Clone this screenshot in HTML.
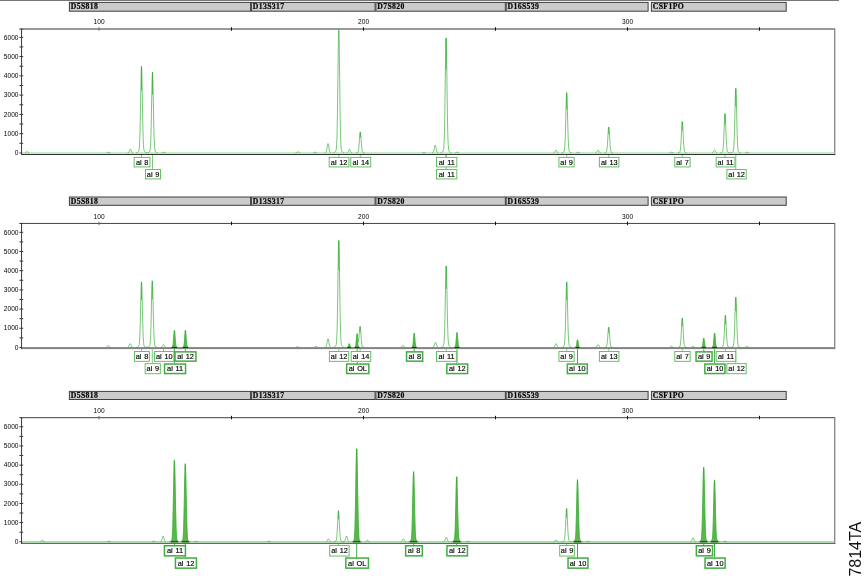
<!DOCTYPE html>
<html lang="en"><head><meta charset="utf-8"><title>7814TA</title>
<style>html,body{margin:0;padding:0;background:#fff;width:864px;height:576px;overflow:hidden}svg{display:block}.a{font-family:"Liberation Sans",sans-serif;font-size:6.6px;fill:#000}.l{font-family:"Liberation Sans",sans-serif;font-size:7.35px;fill:#000;stroke:#000;stroke-width:0.15px;word-spacing:0.7px}.b{font-family:"Liberation Serif",serif;font-weight:bold;font-size:7.7px;letter-spacing:0.4px;fill:#000;stroke:#000;stroke-width:0.2px}.s{font-family:"Liberation Sans",sans-serif;font-size:16px;fill:#111}</style></head><body>
<svg width="864" height="576" viewBox="0 0 864 576">
<rect width="864" height="576" fill="#fff"/>
<line x1="0" y1="0.4" x2="839" y2="0.4" stroke="#777" stroke-width="1.2"/>
<g>
<rect x="69.4" y="2.4" width="181.2" height="8.8" fill="#cbcbcb" stroke="#3e3e3e" stroke-width="1"/>
<text class="b" x="70.7" y="9.15">D5S818</text>
<rect x="251.4" y="2.4" width="123.7" height="8.8" fill="#cbcbcb" stroke="#3e3e3e" stroke-width="1"/>
<text class="b" x="252.7" y="9.15">D13S317</text>
<rect x="375.9" y="2.4" width="129.45" height="8.8" fill="#cbcbcb" stroke="#3e3e3e" stroke-width="1"/>
<text class="b" x="377.2" y="9.15">D7S820</text>
<rect x="506.15" y="2.4" width="141.95" height="8.8" fill="#cbcbcb" stroke="#3e3e3e" stroke-width="1"/>
<text class="b" x="507.45" y="9.15">D16S539</text>
<rect x="651.4" y="2.4" width="134.8" height="8.8" fill="#cbcbcb" stroke="#3e3e3e" stroke-width="1"/>
<text class="b" x="652.7" y="9.15">CSF1PO</text>
<line x1="19.4" y1="152.95" x2="23.2" y2="152.95" stroke="#222" stroke-width="0.9"/>
<text class="a" x="18.5" y="155.15" text-anchor="end">0</text>
<line x1="19.4" y1="143.31" x2="23.2" y2="143.31" stroke="#222" stroke-width="0.9"/>
<line x1="19.4" y1="133.68" x2="23.2" y2="133.68" stroke="#222" stroke-width="0.9"/>
<text class="a" x="18.5" y="135.88" text-anchor="end">1000</text>
<line x1="19.4" y1="124.04" x2="23.2" y2="124.04" stroke="#222" stroke-width="0.9"/>
<line x1="19.4" y1="114.41" x2="23.2" y2="114.41" stroke="#222" stroke-width="0.9"/>
<text class="a" x="18.5" y="116.61" text-anchor="end">2000</text>
<line x1="19.4" y1="104.77" x2="23.2" y2="104.77" stroke="#222" stroke-width="0.9"/>
<line x1="19.4" y1="95.14" x2="23.2" y2="95.14" stroke="#222" stroke-width="0.9"/>
<text class="a" x="18.5" y="97.34" text-anchor="end">3000</text>
<line x1="19.4" y1="85.5" x2="23.2" y2="85.5" stroke="#222" stroke-width="0.9"/>
<line x1="19.4" y1="75.87" x2="23.2" y2="75.87" stroke="#222" stroke-width="0.9"/>
<text class="a" x="18.5" y="78.07" text-anchor="end">4000</text>
<line x1="19.4" y1="66.23" x2="23.2" y2="66.23" stroke="#222" stroke-width="0.9"/>
<line x1="19.4" y1="56.6" x2="23.2" y2="56.6" stroke="#222" stroke-width="0.9"/>
<text class="a" x="18.5" y="58.8" text-anchor="end">5000</text>
<line x1="19.4" y1="46.96" x2="23.2" y2="46.96" stroke="#222" stroke-width="0.9"/>
<line x1="19.4" y1="37.33" x2="23.2" y2="37.33" stroke="#222" stroke-width="0.9"/>
<text class="a" x="18.5" y="39.53" text-anchor="end">6000</text>
<line x1="19.4" y1="29.05" x2="23.2" y2="29.05" stroke="#222" stroke-width="1"/>
<line x1="21.6" y1="29.05" x2="835.2" y2="29.05" stroke="#777" stroke-width="1.4"/>
<line x1="834.7" y1="29.05" x2="834.7" y2="154.95" stroke="#858585" stroke-width="1.3"/>
<line x1="99" y1="27.25" x2="99" y2="30.75" stroke="#666" stroke-width="1"/>
<text class="a" x="99.1" y="24.3" text-anchor="middle">100</text>
<line x1="231.5" y1="27.25" x2="231.5" y2="30.75" stroke="#111" stroke-width="1"/>
<line x1="363.5" y1="27.25" x2="363.5" y2="30.75" stroke="#111" stroke-width="1"/>
<text class="a" x="363.6" y="24.3" text-anchor="middle">200</text>
<line x1="495.5" y1="27.25" x2="495.5" y2="30.75" stroke="#111" stroke-width="1"/>
<line x1="627.5" y1="27.25" x2="627.5" y2="30.75" stroke="#111" stroke-width="1"/>
<text class="a" x="627.6" y="24.3" text-anchor="middle">300</text>
<line x1="759.5" y1="27.25" x2="759.5" y2="30.75" stroke="#111" stroke-width="1"/>
<line x1="22.1" y1="152.95" x2="834.4" y2="152.95" stroke="#c6eac6" stroke-width="1.9"/>
<line x1="21.1" y1="154.45" x2="835.2" y2="154.45" stroke="#303030" stroke-width="1.1"/>
<line x1="21.55" y1="28.65" x2="21.55" y2="154.95" stroke="#3a3a3a" stroke-width="1"/>
<path d="M24.95 152.84L25.2 152.77L25.45 152.65L25.7 152.49L25.95 152.29L26.2 152.06L26.45 151.84L26.7 151.68L26.95 151.6L27.2 151.64L27.45 151.77L27.7 151.97L27.95 152.2L28.2 152.42L28.45 152.6L28.7 152.73L28.95 152.82L29.2 152.87M106.7 152.85L106.95 152.78L107.2 152.69L107.45 152.57L107.7 152.44L107.95 152.32L108.2 152.22L108.45 152.18L108.7 152.2L108.95 152.27L109.2 152.39L109.45 152.52L109.7 152.64L109.95 152.75L110.2 152.82L110.45 152.87M127.7 152.86L127.95 152.81L128.2 152.73L128.45 152.57L128.7 152.32L128.95 151.94L129.2 151.42L129.45 150.8L129.7 150.15L129.95 149.57L130.2 149.2L130.45 149.1L130.7 149.32L130.95 149.79L131.2 150.41L131.45 151.06L131.7 151.64L131.95 152.11L132.2 152.43L132.45 152.64L132.7 152.77L132.95 152.84M136.2 152.84L136.45 152.81L136.7 152.75L136.95 152.69L137.2 152.61L137.45 152.5L137.7 152.37L137.95 152.22L138.2 152.01L138.45 151.71L138.7 151.23L138.95 150.39L139.2 148.83L139.45 146.04L139.7 141.32L139.95 133.98L140.2 123.58L140.45 110.42L140.7 95.74L140.95 81.76L141.2 71.19L141.45 66.38L141.7 68.47L141.95 76.97L142.2 89.92L142.45 104.63L142.7 118.61L142.95 130.19L143.2 138.73L143.45 144.43L143.7 147.9L143.95 149.87L144.2 150.95L144.45 151.55L144.7 151.9L144.95 152.14L145.2 152.31L145.45 152.45L145.7 152.56L145.95 152.64L146.2 152.71L146.45 152.75L146.7 152.78L146.95 152.8L147.2 152.79L147.45 152.77L147.7 152.74L147.95 152.69L148.2 152.62L148.45 152.52L148.7 152.41L148.95 152.26L149.2 152.07L149.45 151.79L149.7 151.35L149.95 150.56L150.2 149.1L150.45 146.5L150.7 142.1L150.95 135.24L151.2 125.54L151.45 113.26L151.7 99.55L151.95 86.51L152.2 76.64L152.45 72.15L152.7 74.11L152.95 82.04L153.2 94.12L153.45 107.85L153.7 120.9L153.95 131.71L154.2 139.68L154.45 144.99L154.7 148.24L154.95 150.08L155.2 151.09L155.45 151.64L155.7 151.97L155.95 152.19L156.2 152.36L156.45 152.49L156.7 152.59L156.95 152.68L157.2 152.75L157.45 152.8L157.7 152.84M161.7 152.85L161.95 152.78L162.2 152.69L162.45 152.57L162.7 152.44L162.95 152.32L163.2 152.22L163.45 152.18L163.7 152.2L163.95 152.27L164.2 152.39L164.45 152.52L164.7 152.64L164.95 152.75L165.2 152.82L165.45 152.87M295.7 152.87L295.95 152.81L296.2 152.72L296.45 152.59L296.7 152.42L296.95 152.23L297.2 152.04L297.45 151.88L297.7 151.8L297.95 151.81L298.2 151.91L298.45 152.07L298.7 152.27L298.95 152.46L299.2 152.62L299.45 152.74L299.7 152.82L299.95 152.88M313.2 152.85L313.45 152.78L313.7 152.69L313.95 152.57L314.2 152.44L314.45 152.32L314.7 152.22L314.95 152.18L315.2 152.2L315.45 152.27L315.7 152.39L315.95 152.52L316.2 152.64L316.45 152.75L316.7 152.82L316.95 152.87M324.7 152.85L324.95 152.82L325.2 152.76L325.45 152.67L325.7 152.5L325.95 152.2L326.2 151.68L326.45 150.88L326.7 149.75L326.95 148.32L327.2 146.72L327.45 145.2L327.7 144.05L327.95 143.52L328.2 143.75L328.45 144.68L328.7 146.09L328.95 147.69L329.2 149.21L329.45 150.47L329.7 151.4L329.95 152.02L330.2 152.4L330.45 152.61L330.7 152.73L330.95 152.8L331.2 152.83M333.2 152.84L333.45 152.8L333.7 152.75L333.95 152.68L334.2 152.59L334.45 152.48L334.7 152.34L334.95 152.17L335.2 151.95L335.45 151.67L335.7 151.28L335.95 150.66L336.2 149.58L336.45 147.61L336.7 144.05L336.95 137.93L337.2 128.24L337.45 114.25L337.7 96.11L337.95 75.32L338.2 54.81L338.45 38.4L338.7 29.66L338.95 30.66L339.2 41.16L339.45 58.71L339.7 79.56L339.95 100.02L340.2 117.4L340.45 130.51L340.7 139.41L340.95 144.93L341.2 148.11L341.45 149.85L341.7 150.81L341.95 151.37L342.2 151.73L342.45 152L342.7 152.2L342.95 152.37L343.2 152.51L343.45 152.62L343.7 152.7L343.95 152.77L344.2 152.82L344.45 152.85M346.7 152.86L346.95 152.82L347.2 152.74L347.45 152.59L347.7 152.35L347.95 151.99L348.2 151.5L348.45 150.91L348.7 150.29L348.95 149.74L349.2 149.38L349.45 149.29L349.7 149.5L349.95 149.94L350.2 150.53L350.45 151.15L350.7 151.71L350.95 152.15L351.2 152.46L351.45 152.66L351.7 152.78L351.95 152.84M356.2 152.85L356.45 152.82L356.7 152.78L356.95 152.73L357.2 152.66L357.45 152.56L357.7 152.37L357.95 152.04L358.2 151.43L358.45 150.38L358.7 148.73L358.95 146.34L359.2 143.24L359.45 139.69L359.7 136.19L359.95 133.38L360.2 131.89L360.45 132.06L360.7 133.86L360.95 136.85L361.2 140.42L361.45 143.91L361.7 146.88L361.95 149.12L362.2 150.64L362.45 151.58L362.7 152.12L362.95 152.42L363.2 152.58L363.45 152.68L363.7 152.74L363.95 152.79L364.2 152.82L364.45 152.85M422.2 152.87L422.45 152.82L422.7 152.75L422.95 152.67L423.2 152.57L423.45 152.48L423.7 152.4L423.95 152.37L424.2 152.39L424.45 152.44L424.7 152.53L424.95 152.63L425.2 152.72L425.45 152.8L425.7 152.86M432.2 152.83L432.45 152.78L432.7 152.69L432.95 152.53L433.2 152.25L433.45 151.78L433.7 151.05L433.95 150.05L434.2 148.81L434.45 147.47L434.7 146.24L434.95 145.37L435.2 145.05L435.45 145.37L435.7 146.24L435.95 147.47L436.2 148.81L436.45 150.05L436.7 151.05L436.95 151.78L437.2 152.25L437.45 152.53L437.7 152.69L437.95 152.78L438.2 152.83L438.45 152.86M440.45 152.85L440.7 152.82L440.95 152.78L441.2 152.72L441.45 152.64L441.7 152.54L441.95 152.41L442.2 152.25L442.45 152.06L442.7 151.81L442.95 151.48L443.2 150.96L443.45 150.06L443.7 148.44L443.95 145.48L444.2 140.34L444.45 132.04L444.7 119.83L444.95 103.63L445.2 84.58L445.45 65.15L445.7 48.8L445.95 39.02L446.2 38.08L446.45 46.22L446.7 61.51L446.95 80.62L447.2 99.99L447.45 116.89L447.7 129.93L447.95 138.96L448.2 144.65L448.45 147.98L448.7 149.81L448.95 150.82L449.2 151.39L449.45 151.76L449.7 152.02L449.95 152.22L450.2 152.38L450.45 152.52L450.7 152.62L450.95 152.71L451.2 152.77L451.45 152.82L451.7 152.86M455.2 152.85L455.45 152.78L455.7 152.69L455.95 152.57L456.2 152.44L456.45 152.32L456.7 152.22L456.95 152.18L457.2 152.2L457.45 152.27L457.7 152.39L457.95 152.52L458.2 152.64L458.45 152.75L458.7 152.82L458.95 152.87M553.45 152.86L553.7 152.81L553.95 152.72L554.2 152.56L554.45 152.32L554.7 151.97L554.95 151.53L555.2 151.04L555.45 150.58L555.7 150.22L555.95 150.06L556.2 150.13L556.45 150.42L556.7 150.85L556.95 151.34L557.2 151.81L557.45 152.19L557.7 152.48L557.95 152.67L558.2 152.78L558.45 152.85M561.7 152.84L561.95 152.8L562.2 152.76L562.45 152.7L562.7 152.62L562.95 152.53L563.2 152.41L563.45 152.26L563.7 152.03L563.95 151.66L564.2 151L564.45 149.78L564.7 147.61L564.95 144L565.2 138.48L565.45 130.83L565.7 121.37L565.95 111.11L566.2 101.71L566.45 95.05L566.7 92.63L566.95 95.05L567.2 101.71L567.45 111.11L567.7 121.37L567.95 130.83L568.2 138.48L568.45 144L568.7 147.61L568.95 149.78L569.2 151L569.45 151.66L569.7 152.03L569.95 152.26L570.2 152.41L570.45 152.53L570.7 152.62L570.95 152.7L571.2 152.76L571.45 152.81L571.7 152.84M576.2 152.85L576.45 152.78L576.7 152.69L576.95 152.57L577.2 152.44L577.45 152.32L577.7 152.22L577.95 152.18L578.2 152.2L578.45 152.27L578.7 152.39L578.95 152.52L579.2 152.64L579.45 152.75L579.7 152.82L579.95 152.87M595.7 152.84L595.95 152.76L596.2 152.63L596.45 152.43L596.7 152.12L596.95 151.72L597.2 151.24L597.45 150.75L597.7 150.35L597.95 150.1L598.2 150.08L598.45 150.28L598.7 150.66L598.95 151.14L599.2 151.63L599.45 152.05L599.7 152.37L599.95 152.6L600.2 152.74L600.45 152.83L600.7 152.87M604.45 152.85L604.7 152.82L604.95 152.78L605.2 152.73L605.45 152.67L605.7 152.58L605.95 152.43L606.2 152.18L606.45 151.71L606.7 150.88L606.95 149.46L607.2 147.26L607.45 144.14L607.7 140.19L607.95 135.79L608.2 131.59L608.45 128.42L608.7 126.98L608.95 127.61L609.2 130.16L609.45 134.04L609.7 138.45L609.95 142.65L610.2 146.12L610.45 148.69L610.7 150.39L610.95 151.43L611.2 152.03L611.45 152.35L611.7 152.53L611.95 152.64L612.2 152.71L612.45 152.76L612.7 152.8L612.95 152.84M669.7 152.85L669.95 152.78L670.2 152.69L670.45 152.57L670.7 152.44L670.95 152.32L671.2 152.22L671.45 152.18L671.7 152.2L671.95 152.27L672.2 152.39L672.45 152.52L672.7 152.64L672.95 152.75L673.2 152.82L673.45 152.87M677.95 152.83L678.2 152.79L678.45 152.75L678.7 152.7L678.95 152.62L679.2 152.52L679.45 152.37L679.7 152.09L679.95 151.59L680.2 150.68L680.45 149.13L680.7 146.66L680.95 143.09L681.2 138.47L681.45 133.18L681.7 127.96L681.95 123.78L682.2 121.55L682.45 121.81L682.7 124.48L682.95 128.95L683.2 134.26L683.45 139.47L683.7 143.9L683.95 147.23L684.2 149.5L684.45 150.91L684.7 151.72L684.95 152.16L685.2 152.41L685.45 152.55L685.7 152.64L685.95 152.71L686.2 152.76L686.45 152.8L686.7 152.84M712.2 152.84L712.45 152.76L712.7 152.63L712.95 152.43L713.2 152.12L713.45 151.72L713.7 151.24L713.95 150.75L714.2 150.35L714.45 150.1L714.7 150.08L714.95 150.28L715.2 150.66L715.45 151.14L715.7 151.63L715.95 152.05L716.2 152.37L716.45 152.6L716.7 152.74L716.95 152.83L717.2 152.87M720.2 152.86L720.45 152.83L720.7 152.79L720.95 152.75L721.2 152.69L721.45 152.62L721.7 152.52L721.95 152.39L722.2 152.17L722.45 151.78L722.7 151.07L722.95 149.8L723.2 147.65L723.45 144.31L723.7 139.57L723.95 133.58L724.2 126.89L724.45 120.52L724.7 115.7L724.95 113.51L725.2 114.47L725.45 118.34L725.7 124.23L725.95 130.94L726.2 137.3L726.45 142.58L726.7 146.47L726.95 149.07L727.2 150.65L727.45 151.55L727.7 152.04L727.95 152.31L728.2 152.47L728.45 152.58L728.7 152.66L728.95 152.72L729.2 152.76L729.45 152.8L729.7 152.83L729.95 152.84M730.45 152.84L730.7 152.82L730.95 152.79L731.2 152.75L731.45 152.7L731.7 152.63L731.95 152.54L732.2 152.42L732.45 152.28L732.7 152.07L732.95 151.75L733.2 151.19L733.45 150.16L733.7 148.29L733.95 145.09L734.2 140.02L734.45 132.7L734.7 123.2L734.95 112.32L735.2 101.59L735.45 93L735.7 88.43L735.95 88.96L736.2 94.45L736.45 103.63L736.7 114.55L736.95 125.25L737.2 134.35L737.45 141.21L737.7 145.86L737.95 148.75L738.2 150.42L738.45 151.33L738.7 151.83L738.95 152.12L739.2 152.31L739.45 152.45L739.7 152.56L739.95 152.65L740.2 152.72L740.45 152.78L740.7 152.82L740.95 152.86M745.2 152.85L745.45 152.78L745.7 152.69L745.95 152.57L746.2 152.44L746.45 152.32L746.7 152.22L746.95 152.18L747.2 152.2L747.45 152.27L747.7 152.39L747.95 152.52L748.2 152.64L748.45 152.75L748.7 152.82L748.95 152.87" fill="none" stroke="#2fa92f" stroke-width="0.66" stroke-linejoin="round"/>
<line x1="141.5" y1="66.53" x2="141.5" y2="90.52" stroke="#2fa92f" stroke-width="0.7"/>
<line x1="152.5" y1="72.32" x2="152.5" y2="94.68" stroke="#2fa92f" stroke-width="0.7"/>
<line x1="360.3" y1="132.05" x2="360.3" y2="137.69" stroke="#2fa92f" stroke-width="0.7"/>
<line x1="446.1" y1="37.63" x2="446.1" y2="69.7" stroke="#2fa92f" stroke-width="0.7"/>
<line x1="566.7" y1="92.93" x2="566.7" y2="109.52" stroke="#2fa92f" stroke-width="0.7"/>
<line x1="608.75" y1="127.24" x2="608.75" y2="134.22" stroke="#2fa92f" stroke-width="0.7"/>
<line x1="682.3" y1="121.65" x2="682.3" y2="130.2" stroke="#2fa92f" stroke-width="0.7"/>
<line x1="725" y1="113.75" x2="725" y2="124.51" stroke="#2fa92f" stroke-width="0.7"/>
<line x1="735.8" y1="88.31" x2="735.8" y2="106.19" stroke="#2fa92f" stroke-width="0.7"/>
<line x1="141.5" y1="155.05" x2="141.5" y2="157.2" stroke="#5cbd5c" stroke-width="0.8"/>
<line x1="152.5" y1="155.05" x2="152.5" y2="169.4" stroke="#5cbd5c" stroke-width="0.8"/>
<line x1="338.8" y1="155.05" x2="338.8" y2="157.2" stroke="#5cbd5c" stroke-width="0.8"/>
<line x1="360.3" y1="155.05" x2="360.3" y2="157.2" stroke="#5cbd5c" stroke-width="0.8"/>
<line x1="446.1" y1="155.05" x2="446.1" y2="157.2" stroke="#5cbd5c" stroke-width="0.8"/>
<line x1="446.1" y1="155.05" x2="446.1" y2="169.4" stroke="#5cbd5c" stroke-width="0.8"/>
<line x1="566.7" y1="155.05" x2="566.7" y2="157.2" stroke="#5cbd5c" stroke-width="0.8"/>
<line x1="608.75" y1="155.05" x2="608.75" y2="157.2" stroke="#5cbd5c" stroke-width="0.8"/>
<line x1="682.3" y1="155.05" x2="682.3" y2="157.2" stroke="#5cbd5c" stroke-width="0.8"/>
<line x1="725" y1="155.05" x2="725" y2="157.2" stroke="#5cbd5c" stroke-width="0.8"/>
<line x1="735.8" y1="155.05" x2="735.8" y2="169.4" stroke="#5cbd5c" stroke-width="0.8"/>
<rect x="134.17" y="157.37" width="15.75" height="9.55" fill="#fff" stroke="#5cbd5c" stroke-width="0.95"/>
<text class="l" x="142.15" y="164.7" text-anchor="middle">al 8</text>
<rect x="145.47" y="169.57" width="15.05" height="9.35" fill="#fff" stroke="#5cbd5c" stroke-width="0.95"/>
<text class="l" x="153.1" y="176.8" text-anchor="middle">al 9</text>
<rect x="329.18" y="157.37" width="19.75" height="9.55" fill="#fff" stroke="#5cbd5c" stroke-width="0.95"/>
<text class="l" x="339.15" y="164.7" text-anchor="middle">al 12</text>
<rect x="350.78" y="157.37" width="19.95" height="9.55" fill="#fff" stroke="#5cbd5c" stroke-width="0.95"/>
<text class="l" x="360.85" y="164.7" text-anchor="middle">al 14</text>
<rect x="436.48" y="157.37" width="20.35" height="9.55" fill="#fff" stroke="#5cbd5c" stroke-width="0.95"/>
<text class="l" x="446.75" y="164.7" text-anchor="middle">al 11</text>
<rect x="436.48" y="169.57" width="20.35" height="9.35" fill="#fff" stroke="#5cbd5c" stroke-width="0.95"/>
<text class="l" x="446.75" y="176.8" text-anchor="middle">al 11</text>
<rect x="558.93" y="157.37" width="15.2" height="9.55" fill="#fff" stroke="#5cbd5c" stroke-width="0.95"/>
<text class="l" x="566.63" y="164.7" text-anchor="middle">al 9</text>
<rect x="599.38" y="157.37" width="19.55" height="9.55" fill="#fff" stroke="#5cbd5c" stroke-width="0.95"/>
<text class="l" x="609.25" y="164.7" text-anchor="middle">al 13</text>
<rect x="674.78" y="157.37" width="15.35" height="9.55" fill="#fff" stroke="#5cbd5c" stroke-width="0.95"/>
<text class="l" x="682.55" y="164.7" text-anchor="middle">al 7</text>
<rect x="716.18" y="157.37" width="18.75" height="9.55" fill="#fff" stroke="#5cbd5c" stroke-width="0.95"/>
<text class="l" x="725.65" y="164.7" text-anchor="middle">al 11</text>
<rect x="726.88" y="169.57" width="19.3" height="9.35" fill="#fff" stroke="#5cbd5c" stroke-width="0.95"/>
<text class="l" x="736.63" y="176.8" text-anchor="middle">al 12</text>
</g>
<g>
<rect x="69.4" y="197" width="181.2" height="8.3" fill="#cbcbcb" stroke="#3e3e3e" stroke-width="1"/>
<text class="b" x="70.7" y="203.75">D5S818</text>
<rect x="251.4" y="197" width="123.7" height="8.3" fill="#cbcbcb" stroke="#3e3e3e" stroke-width="1"/>
<text class="b" x="252.7" y="203.75">D13S317</text>
<rect x="375.9" y="197" width="129.45" height="8.3" fill="#cbcbcb" stroke="#3e3e3e" stroke-width="1"/>
<text class="b" x="377.2" y="203.75">D7S820</text>
<rect x="506.15" y="197" width="141.95" height="8.3" fill="#cbcbcb" stroke="#3e3e3e" stroke-width="1"/>
<text class="b" x="507.45" y="203.75">D16S539</text>
<rect x="651.4" y="197" width="134.8" height="8.3" fill="#cbcbcb" stroke="#3e3e3e" stroke-width="1"/>
<text class="b" x="652.7" y="203.75">CSF1PO</text>
<line x1="19.4" y1="347.45" x2="23.2" y2="347.45" stroke="#222" stroke-width="0.9"/>
<text class="a" x="18.5" y="349.65" text-anchor="end">0</text>
<line x1="19.4" y1="337.85" x2="23.2" y2="337.85" stroke="#222" stroke-width="0.9"/>
<line x1="19.4" y1="328.26" x2="23.2" y2="328.26" stroke="#222" stroke-width="0.9"/>
<text class="a" x="18.5" y="330.46" text-anchor="end">1000</text>
<line x1="19.4" y1="318.66" x2="23.2" y2="318.66" stroke="#222" stroke-width="0.9"/>
<line x1="19.4" y1="309.07" x2="23.2" y2="309.07" stroke="#222" stroke-width="0.9"/>
<text class="a" x="18.5" y="311.27" text-anchor="end">2000</text>
<line x1="19.4" y1="299.47" x2="23.2" y2="299.47" stroke="#222" stroke-width="0.9"/>
<line x1="19.4" y1="289.88" x2="23.2" y2="289.88" stroke="#222" stroke-width="0.9"/>
<text class="a" x="18.5" y="292.08" text-anchor="end">3000</text>
<line x1="19.4" y1="280.28" x2="23.2" y2="280.28" stroke="#222" stroke-width="0.9"/>
<line x1="19.4" y1="270.69" x2="23.2" y2="270.69" stroke="#222" stroke-width="0.9"/>
<text class="a" x="18.5" y="272.89" text-anchor="end">4000</text>
<line x1="19.4" y1="261.09" x2="23.2" y2="261.09" stroke="#222" stroke-width="0.9"/>
<line x1="19.4" y1="251.5" x2="23.2" y2="251.5" stroke="#222" stroke-width="0.9"/>
<text class="a" x="18.5" y="253.7" text-anchor="end">5000</text>
<line x1="19.4" y1="241.9" x2="23.2" y2="241.9" stroke="#222" stroke-width="0.9"/>
<line x1="19.4" y1="232.31" x2="23.2" y2="232.31" stroke="#222" stroke-width="0.9"/>
<text class="a" x="18.5" y="234.51" text-anchor="end">6000</text>
<line x1="19.4" y1="223.45" x2="23.2" y2="223.45" stroke="#222" stroke-width="1"/>
<line x1="21.6" y1="223.45" x2="835.2" y2="223.45" stroke="#444" stroke-width="1.0"/>
<line x1="834.7" y1="223.45" x2="834.7" y2="349.1" stroke="#858585" stroke-width="1.3"/>
<line x1="99" y1="221.65" x2="99" y2="225.15" stroke="#666" stroke-width="1"/>
<text class="a" x="99.1" y="218.7" text-anchor="middle">100</text>
<line x1="231.5" y1="221.65" x2="231.5" y2="225.15" stroke="#111" stroke-width="1"/>
<line x1="363.5" y1="221.65" x2="363.5" y2="225.15" stroke="#111" stroke-width="1"/>
<text class="a" x="363.6" y="218.7" text-anchor="middle">200</text>
<line x1="495.5" y1="221.65" x2="495.5" y2="225.15" stroke="#111" stroke-width="1"/>
<line x1="627.5" y1="221.65" x2="627.5" y2="225.15" stroke="#111" stroke-width="1"/>
<text class="a" x="627.6" y="218.7" text-anchor="middle">300</text>
<line x1="759.5" y1="221.65" x2="759.5" y2="225.15" stroke="#111" stroke-width="1"/>
<line x1="22.1" y1="347.45" x2="834.4" y2="347.45" stroke="#52b852" stroke-width="1.1"/>
<line x1="21.1" y1="348.6" x2="835.2" y2="348.6" stroke="#777" stroke-width="1.0"/>
<line x1="21.55" y1="223.05" x2="21.55" y2="349.1" stroke="#3a3a3a" stroke-width="1"/>
<path d="M169.4 347.75L169.4 347.45L169.65 347.45L169.9 347.45L170.15 347.45L170.4 347.45L170.65 347.45L170.9 347.45L171.15 347.45L171.4 347.41L171.65 347.17L171.9 346.93L172.15 346.69L172.4 346.45L172.65 346.21L172.9 345.93L173.15 344.25L173.4 341.58L173.65 338.04L173.9 334.27L174.15 331.31L174.4 330.18L174.65 331.31L174.9 334.27L175.15 338.04L175.4 341.58L175.65 344.25L175.9 345.93L176.15 346.21L176.4 346.45L176.65 346.69L176.9 346.93L177.15 347.17L177.4 347.41L177.65 347.45L177.9 347.45L178.15 347.45L178.4 347.45L178.65 347.45L178.9 347.45L179.15 347.45L179.4 347.45L179.4 347.75Z" fill="#5ab848" stroke="#5ab848" stroke-width="0.4"/>
<line x1="171.76" y1="347.45" x2="177.04" y2="347.45" stroke="#222" stroke-width="1"/>
<path d="M180.4 347.75L180.4 347.45L180.65 347.45L180.9 347.45L181.15 347.45L181.4 347.45L181.65 347.45L181.9 347.45L182.15 347.45L182.4 347.41L182.65 347.17L182.9 346.93L183.15 346.69L183.4 346.45L183.65 346.21L183.9 345.93L184.15 344.25L184.4 341.58L184.65 338.04L184.9 334.27L185.15 331.31L185.4 330.18L185.65 331.31L185.9 334.27L186.15 338.04L186.4 341.58L186.65 344.25L186.9 345.93L187.15 346.21L187.4 346.45L187.65 346.69L187.9 346.93L188.15 347.17L188.4 347.41L188.65 347.45L188.9 347.45L189.15 347.45L189.4 347.45L189.65 347.45L189.9 347.45L190.15 347.45L190.4 347.45L190.4 347.75Z" fill="#5ab848" stroke="#5ab848" stroke-width="0.4"/>
<line x1="182.76" y1="347.45" x2="188.04" y2="347.45" stroke="#222" stroke-width="1"/>
<path d="M344.2 347.75L344.2 347.45L344.45 347.45L344.7 347.45L344.95 347.45L345.2 347.45L345.45 347.45L345.7 347.45L345.95 347.45L346.2 347.45L346.45 347.45L346.7 347.45L346.95 347.44L347.2 347.38L347.45 347.31L347.7 347.22L347.95 346.9L348.2 346.35L348.45 345.55L348.7 344.64L348.95 343.9L349.2 343.61L349.45 343.9L349.7 344.64L349.95 345.55L350.2 346.35L350.45 346.9L350.7 347.22L350.95 347.31L351.2 347.38L351.45 347.44L351.7 347.45L351.95 347.45L352.2 347.45L352.45 347.45L352.7 347.45L352.95 347.45L353.2 347.45L353.45 347.45L353.7 347.45L353.95 347.45L354.2 347.45L354.2 347.75Z" fill="#5ab848" stroke="#5ab848" stroke-width="0.4"/>
<line x1="347.37" y1="347.45" x2="351.03" y2="347.45" stroke="#222" stroke-width="1"/>
<path d="M352.1 347.75L352.1 347.45L352.35 347.45L352.6 347.45L352.85 347.45L353.1 347.45L353.35 347.45L353.6 347.45L353.85 347.45L354.1 347.45L354.35 347.39L354.6 347.19L354.85 346.98L355.1 346.78L355.35 346.57L355.6 346.36L355.85 345.09L356.1 343.01L356.35 340.2L356.6 337.16L356.85 334.75L357.1 333.83L357.35 334.75L357.6 337.16L357.85 340.2L358.1 343.01L358.35 345.09L358.6 346.36L358.85 346.57L359.1 346.78L359.35 346.98L359.6 347.19L359.85 347.39L360.1 347.45L360.35 347.45L360.6 347.45L360.85 347.45L361.1 347.45L361.35 347.45L361.6 347.45L361.85 347.45L362.1 347.45L362.1 347.75Z" fill="#5ab848" stroke="#5ab848" stroke-width="0.4"/>
<line x1="354.68" y1="347.45" x2="359.52" y2="347.45" stroke="#222" stroke-width="1"/>
<path d="M409.2 347.75L409.2 347.45L409.45 347.45L409.7 347.45L409.95 347.45L410.2 347.45L410.45 347.45L410.7 347.45L410.95 347.45L411.2 347.45L411.45 347.35L411.7 347.14L411.95 346.93L412.2 346.71L412.45 346.5L412.7 346.27L412.95 344.92L413.2 342.72L413.45 339.75L413.7 336.55L413.95 334.02L414.2 333.06L414.45 334.02L414.7 336.55L414.95 339.75L415.2 342.72L415.45 344.92L415.7 346.27L415.95 346.5L416.2 346.71L416.45 346.93L416.7 347.14L416.95 347.35L417.2 347.45L417.45 347.45L417.7 347.45L417.95 347.45L418.2 347.45L418.45 347.45L418.7 347.45L418.95 347.45L419.2 347.45L419.2 347.75Z" fill="#5ab848" stroke="#5ab848" stroke-width="0.4"/>
<line x1="411.74" y1="347.45" x2="416.66" y2="347.45" stroke="#222" stroke-width="1"/>
<path d="M452 347.75L452 347.45L452.25 347.45L452.5 347.45L452.75 347.45L453 347.45L453.25 347.45L453.5 347.45L453.75 347.45L454 347.45L454.25 347.32L454.5 347.1L454.75 346.88L455 346.66L455.25 346.44L455.5 346.21L455.75 344.79L456 342.5L456.25 339.41L456.5 336.1L456.75 333.48L457 332.48L457.25 333.48L457.5 336.1L457.75 339.41L458 342.5L458.25 344.79L458.5 346.21L458.75 346.44L459 346.66L459.25 346.88L459.5 347.1L459.75 347.32L460 347.45L460.25 347.45L460.5 347.45L460.75 347.45L461 347.45L461.25 347.45L461.5 347.45L461.75 347.45L462 347.45L462 347.75Z" fill="#5ab848" stroke="#5ab848" stroke-width="0.4"/>
<line x1="454.5" y1="347.45" x2="459.5" y2="347.45" stroke="#222" stroke-width="1"/>
<path d="M572.5 347.75L572.5 347.45L572.75 347.45L573 347.45L573.25 347.45L573.5 347.45L573.75 347.45L574 347.45L574.25 347.45L574.5 347.45L574.75 347.45L575 347.45L575.25 347.34L575.5 347.21L575.75 347.07L576 346.93L576.25 346.26L576.5 345.13L576.75 343.53L577 341.76L577.25 340.33L577.5 339.77L577.75 340.33L578 341.76L578.25 343.53L578.5 345.13L578.75 346.26L579 346.93L579.25 347.07L579.5 347.21L579.75 347.34L580 347.45L580.25 347.45L580.5 347.45L580.75 347.45L581 347.45L581.25 347.45L581.5 347.45L581.75 347.45L582 347.45L582.25 347.45L582.5 347.45L582.5 347.75Z" fill="#5ab848" stroke="#5ab848" stroke-width="0.4"/>
<line x1="575.44" y1="347.45" x2="579.56" y2="347.45" stroke="#222" stroke-width="1"/>
<path d="M698.75 347.75L698.75 347.45L699 347.45L699.25 347.45L699.5 347.45L699.75 347.45L700 347.45L700.25 347.45L700.5 347.45L700.75 347.45L701 347.45L701.25 347.41L701.5 347.25L701.75 347.1L702 346.94L702.25 346.78L702.5 345.95L702.75 344.54L703 342.59L703.25 340.44L703.5 338.71L703.75 338.05L704 338.71L704.25 340.44L704.5 342.59L704.75 344.54L705 345.95L705.25 346.78L705.5 346.94L705.75 347.1L706 347.25L706.25 347.41L706.5 347.45L706.75 347.45L707 347.45L707.25 347.45L707.5 347.45L707.75 347.45L708 347.45L708.25 347.45L708.5 347.45L708.75 347.45L708.75 347.75Z" fill="#5ab848" stroke="#5ab848" stroke-width="0.4"/>
<line x1="701.59" y1="347.45" x2="705.91" y2="347.45" stroke="#222" stroke-width="1"/>
<path d="M709.6 347.75L709.6 347.45L709.85 347.45L710.1 347.45L710.35 347.45L710.6 347.45L710.85 347.45L711.1 347.45L711.35 347.45L711.6 347.45L711.85 347.34L712.1 347.13L712.35 346.91L712.6 346.7L712.85 346.48L713.1 346.25L713.35 344.88L713.6 342.65L713.85 339.64L714.1 336.4L714.35 333.84L714.6 332.87L714.85 333.84L715.1 336.4L715.35 339.64L715.6 342.65L715.85 344.88L716.1 346.25L716.35 346.48L716.6 346.7L716.85 346.91L717.1 347.13L717.35 347.34L717.6 347.45L717.85 347.45L718.1 347.45L718.35 347.45L718.6 347.45L718.85 347.45L719.1 347.45L719.35 347.45L719.6 347.45L719.6 347.75Z" fill="#5ab848" stroke="#5ab848" stroke-width="0.4"/>
<line x1="712.12" y1="347.45" x2="717.08" y2="347.45" stroke="#222" stroke-width="1"/>
<path d="M105.95 347.37L106.2 347.31L106.45 347.22L106.7 347.07L106.95 346.85L107.2 346.57L107.45 346.25L107.7 345.93L107.95 345.68L108.2 345.54L108.45 345.56L108.7 345.72L108.95 345.99L109.2 346.32L109.45 346.63L109.7 346.9L109.95 347.1L110.2 347.24L110.45 347.33L110.7 347.38M127.45 347.37L127.7 347.33L127.95 347.25L128.2 347.11L128.45 346.88L128.7 346.53L128.95 346.04L129.2 345.44L129.45 344.79L129.7 344.19L129.95 343.77L130.2 343.61L130.45 343.77L130.7 344.19L130.95 344.79L131.2 345.44L131.45 346.04L131.7 346.53L131.95 346.88L132.2 347.11L132.45 347.25L132.7 347.33L132.95 347.37M136.45 347.34L136.7 347.3L136.95 347.25L137.2 347.19L137.45 347.11L137.7 347.01L137.95 346.89L138.2 346.73L138.45 346.51L138.7 346.15L138.95 345.5L139.2 344.32L139.45 342.21L139.7 338.62L139.95 333.05L140.2 325.16L140.45 315.17L140.7 304.02L140.95 293.41L141.2 285.39L141.45 281.74L141.7 283.33L141.95 289.78L142.2 299.6L142.45 310.77L142.7 321.38L142.95 330.17L143.2 336.66L143.45 340.98L143.7 343.62L143.95 345.11L144.2 345.93L144.45 346.39L144.7 346.65L144.95 346.83L145.2 346.96L145.45 347.07L145.7 347.15L145.95 347.21L146.2 347.26L146.45 347.29L146.7 347.31L146.95 347.31L147.2 347.3L147.45 347.28L147.7 347.24L147.95 347.18L148.2 347.11L148.45 347.02L148.7 346.91L148.95 346.76L149.2 346.55L149.45 346.21L149.7 345.63L149.95 344.57L150.2 342.64L150.45 339.35L150.7 334.11L150.95 326.56L151.2 316.77L151.45 305.55L151.7 294.48L151.95 285.63L152.2 280.91L152.45 281.45L152.7 287.12L152.95 296.59L153.2 307.85L153.45 318.88L153.7 328.26L153.95 335.34L154.2 340.14L154.45 343.12L154.7 344.84L154.95 345.78L155.2 346.3L155.45 346.6L155.7 346.79L155.95 346.94L156.2 347.05L156.45 347.14L156.7 347.21L156.95 347.27L157.2 347.32L157.45 347.35M160.95 347.36L161.2 347.31L161.45 347.22L161.7 347.06L161.95 346.82L162.2 346.48L162.45 346.04L162.7 345.55L162.95 345.09L163.2 344.74L163.45 344.58L163.7 344.65L163.95 344.93L164.2 345.36L164.45 345.85L164.7 346.31L164.95 346.69L165.2 346.98L165.45 347.17L165.7 347.28L165.95 347.35M171.45 347.37L171.7 347.12L171.95 346.88L172.2 346.64L172.45 346.4L172.7 346.16L172.95 345.67L173.2 343.8L173.45 340.93L173.7 337.28L173.95 333.57L174.2 330.91L174.45 330.23L174.7 331.78L174.95 334.99L175.2 338.8L175.45 342.2L175.7 344.67L175.95 346.01L176.2 346.25L176.45 346.5L176.7 346.74L176.95 346.98L177.2 347.22L177.45 347.45M182.45 347.37L182.7 347.12L182.95 346.88L183.2 346.64L183.45 346.4L183.7 346.16L183.95 345.67L184.2 343.8L184.45 340.93L184.7 337.28L184.95 333.57L185.2 330.91L185.45 330.23L185.7 331.78L185.95 334.99L186.2 338.8L186.45 342.2L186.7 344.67L186.95 346.01L187.2 346.25L187.45 346.5L187.7 346.74L187.95 346.98L188.2 347.22L188.45 347.45M295.7 347.35L295.95 347.28L296.2 347.19L296.45 347.07L296.7 346.94L296.95 346.82L297.2 346.73L297.45 346.68L297.7 346.7L297.95 346.78L298.2 346.89L298.45 347.02L298.7 347.15L298.95 347.25L299.2 347.32L299.45 347.37M313.95 347.36L314.2 347.3L314.45 347.2L314.7 347.06L314.95 346.89L315.2 346.69L315.45 346.5L315.7 346.36L315.95 346.3L316.2 346.33L316.45 346.44L316.7 346.61L316.95 346.81L317.2 346.99L317.45 347.15L317.7 347.26L317.95 347.34M324.7 347.35L324.95 347.32L325.2 347.28L325.45 347.19L325.7 347.03L325.95 346.75L326.2 346.27L326.45 345.52L326.7 344.46L326.95 343.12L327.2 341.63L327.45 340.2L327.7 339.13L327.95 338.64L328.2 338.85L328.45 339.72L328.7 341.03L328.95 342.53L329.2 343.95L329.45 345.13L329.7 346L329.95 346.58L330.2 346.94L330.45 347.14L330.7 347.25L330.95 347.31L331.2 347.34M333.2 347.35L333.45 347.32L333.7 347.28L333.95 347.22L334.2 347.14L334.45 347.04L334.7 346.92L334.95 346.77L335.2 346.58L335.45 346.34L335.7 346L335.95 345.47L336.2 344.53L336.45 342.83L336.7 339.74L336.95 334.45L337.2 326.05L337.45 313.94L337.7 298.23L337.95 280.22L338.2 262.46L338.45 248.25L338.7 240.69L338.95 241.56L339.2 250.65L339.45 265.84L339.7 283.9L339.95 301.61L340.2 316.66L340.45 328.02L340.7 335.73L340.95 340.51L341.2 343.26L341.45 344.77L341.7 345.6L341.95 346.08L342.2 346.39L342.45 346.62L342.7 346.8L342.95 346.95L343.2 347.07L343.45 347.16L343.7 347.24L343.95 347.29L344.2 347.34M347.2 347.38L347.45 347.31L347.7 347.22L347.95 346.9L348.2 346.35L348.45 345.55L348.7 344.64L348.95 343.9L349.2 343.61L349.45 343.9L349.7 344.64L349.95 345.55L350.2 346.35L350.45 346.9L350.7 347.22L350.95 347.31L351.2 347.38M354.2 347.44L354.45 347.3L354.7 347.08L354.95 346.87L355.2 346.65L355.45 346.43L355.7 345.86L355.95 344.26L356.2 341.83L356.45 338.81L356.7 335.86L356.95 333.9L357.2 333.61L357.45 335.05L357.7 337.53L357.95 340.03L358.2 341.64L358.45 341.87L358.7 340.4L358.95 337.65L359.2 334.38L359.45 331.04L359.7 328.26L359.95 326.65L360.2 326.48L360.45 327.96L360.7 330.76L360.95 334.24L361.2 337.78L361.45 340.87L361.7 343.25L361.95 344.9L362.2 345.94L362.45 346.54L362.7 346.88L362.95 347.06L363.2 347.17L363.45 347.23L363.7 347.28L363.95 347.32L364.2 347.35M400.7 347.34L400.95 347.26L401.2 347.14L401.45 346.95L401.7 346.69L401.95 346.38L402.2 346.06L402.45 345.77L402.7 345.58L402.95 345.53L403.2 345.64L403.45 345.87L403.7 346.18L403.95 346.51L404.2 346.8L404.45 347.03L404.7 347.19L404.95 347.3L405.2 347.36M411.45 347.35L411.7 347.14L411.95 346.93L412.2 346.71L412.45 346.5L412.7 346.27L412.95 344.92L413.2 342.72L413.45 339.75L413.7 336.55L413.95 334.02L414.2 333.06L414.45 334.02L414.7 336.55L414.95 339.75L415.2 342.72L415.45 344.92L415.7 346.27L415.95 346.5L416.2 346.71L416.45 346.93L416.7 347.14L416.95 347.35M432.7 347.35L432.95 347.3L433.2 347.2L433.45 347.04L433.7 346.76L433.95 346.32L434.2 345.7L434.45 344.91L434.7 344.03L434.95 343.2L435.2 342.56L435.45 342.28L435.7 342.4L435.95 342.91L436.2 343.68L436.45 344.56L436.7 345.4L436.95 346.09L437.2 346.6L437.45 346.94L437.7 347.15L437.95 347.27L438.2 347.33L438.45 347.36M440.95 347.34L441.2 347.3L441.45 347.25L441.7 347.19L441.95 347.11L442.2 347.01L442.45 346.88L442.7 346.72L442.95 346.52L443.2 346.21L443.45 345.71L443.7 344.81L443.95 343.16L444.2 340.23L444.45 335.35L444.7 327.88L444.95 317.54L445.2 304.75L445.45 290.88L445.7 278.17L445.95 269.16L446.2 265.89L446.45 269.16L446.7 278.17L446.95 290.88L447.2 304.75L447.45 317.54L447.7 327.88L447.95 335.35L448.2 340.23L448.45 343.16L448.7 344.81L448.95 345.71L449.2 346.21L449.45 346.52L449.7 346.72L449.95 346.88L450.2 347.01L450.45 347.11L450.7 347.19L450.95 347.26L451.2 347.31L451.45 347.35M454.2 347.36L454.45 347.14L454.7 346.92L454.95 346.71L455.2 346.49L455.45 346.27L455.7 345.14L455.95 343.03L456.2 340.07L456.45 336.74L456.7 333.9L456.95 332.52L457.2 333.13L457.45 335.49L457.7 338.74L457.95 341.93L458.2 344.41L458.45 345.99L458.7 346.4L458.95 346.62L459.2 346.84L459.45 347.06L459.7 347.28L459.95 347.45M553.45 347.34L553.7 347.27L553.95 347.14L554.2 346.94L554.45 346.61L554.7 346.15L554.95 345.57L555.2 344.92L555.45 344.3L555.7 343.83L555.95 343.62L556.2 343.71L556.45 344.09L556.7 344.66L556.95 345.31L557.2 345.93L557.45 346.44L557.7 346.82L557.95 347.07L558.2 347.23L558.45 347.31L558.7 347.36M561.7 347.33L561.95 347.29L562.2 347.24L562.45 347.17L562.7 347.09L562.95 346.99L563.2 346.87L563.45 346.7L563.7 346.45L563.95 346.05L564.2 345.33L564.45 344L564.7 341.64L564.95 337.71L565.2 331.7L565.45 323.38L565.7 313.09L565.95 301.93L566.2 291.7L566.45 284.45L566.7 281.82L566.95 284.45L567.2 291.7L567.45 301.93L567.7 313.09L567.95 323.38L568.2 331.7L568.45 337.71L568.7 341.64L568.95 344L569.2 345.33L569.45 346.05L569.7 346.45L569.95 346.7L570.2 346.87L570.45 346.99L570.7 347.09L570.95 347.18L571.2 347.24L571.45 347.29L571.7 347.33M575.2 347.36L575.45 347.23L575.7 347.1L575.95 346.97L576.2 346.43L576.45 345.39L576.7 343.88L576.95 342.1L577.2 340.56L577.45 339.8L577.7 340.13L577.95 341.42L578.2 343.18L578.45 344.84L578.7 346.08L578.95 346.83L579.2 347.05L579.45 347.18L579.7 347.31L579.95 347.44M595.7 347.34L595.95 347.26L596.2 347.14L596.45 346.93L596.7 346.63L596.95 346.22L597.2 345.75L597.45 345.26L597.7 344.86L597.95 344.61L598.2 344.59L598.45 344.79L598.7 345.17L598.95 345.65L599.2 346.13L599.45 346.55L599.7 346.88L599.95 347.1L600.2 347.24L600.45 347.33L600.7 347.37M604.7 347.34L604.95 347.31L605.2 347.28L605.45 347.23L605.7 347.16L605.95 347.05L606.2 346.85L606.45 346.48L606.7 345.83L606.95 344.72L607.2 343L607.45 340.56L607.7 337.47L607.95 334.03L608.2 330.75L608.45 328.27L608.7 327.14L608.95 327.63L609.2 329.63L609.45 332.66L609.7 336.11L609.95 339.39L610.2 342.11L610.45 344.12L610.7 345.45L610.95 346.27L611.2 346.73L611.45 346.98L611.7 347.12L611.95 347.2L612.2 347.26L612.45 347.3L612.7 347.33M669.45 347.36L669.7 347.3L669.95 347.2L670.2 347.06L670.45 346.89L670.7 346.69L670.95 346.5L671.2 346.36L671.45 346.3L671.7 346.33L671.95 346.44L672.2 346.61L672.45 346.81L672.7 346.99L672.95 347.15L673.2 347.26L673.45 347.34M677.95 347.34L678.2 347.3L678.45 347.26L678.7 347.21L678.95 347.14L679.2 347.05L679.45 346.9L679.7 346.64L679.95 346.17L680.2 345.32L680.45 343.85L680.7 341.53L680.95 338.17L681.2 333.83L681.45 328.84L681.7 323.93L681.95 319.99L682.2 317.9L682.45 318.14L682.7 320.66L682.95 324.86L683.2 329.86L683.45 334.76L683.7 338.93L683.95 342.07L684.2 344.2L684.45 345.53L684.7 346.29L684.95 346.71L685.2 346.94L685.45 347.07L685.7 347.16L685.95 347.22L686.2 347.27L686.45 347.31L686.7 347.34M690.95 347.36L691.2 347.3L691.45 347.2L691.7 347.06L691.95 346.89L692.2 346.69L692.45 346.5L692.7 346.36L692.95 346.3L693.2 346.33L693.45 346.44L693.7 346.61L693.95 346.81L694.2 346.99L694.45 347.15L694.7 347.26L694.95 347.34M701.2 347.44L701.45 347.29L701.7 347.13L701.95 346.97L702.2 346.82L702.45 346.15L702.7 344.87L702.95 343.01L703.2 340.86L703.45 338.99L703.7 338.07L703.95 338.48L704.2 340.03L704.45 342.16L704.7 344.19L704.95 345.71L705.2 346.65L705.45 346.91L705.7 347.07L705.95 347.22L706.2 347.38M711.7 347.45L711.95 347.26L712.2 347.04L712.45 346.82L712.7 346.61L712.95 346.39L713.2 345.8L713.45 344.09L713.7 341.52L713.95 338.33L714.2 335.24L714.45 333.23L714.7 333.03L714.95 334.72L715.2 337.67L715.45 340.91L715.7 343.64L715.95 345.52L716.2 346.35L716.45 346.57L716.7 346.78L716.95 347L717.2 347.21L717.45 347.43M720.95 347.34L721.2 347.31L721.45 347.27L721.7 347.21L721.95 347.15L722.2 347.06L722.45 346.93L722.7 346.71L722.95 346.31L723.2 345.57L723.45 344.28L723.7 342.16L723.95 338.99L724.2 334.68L724.45 329.48L724.7 324.01L724.95 319.2L725.2 316.04L725.45 315.26L725.7 317.05L725.95 320.98L726.2 326.18L726.45 331.64L726.7 336.53L726.95 340.4L727.2 343.13L727.45 344.88L727.7 345.92L727.95 346.5L728.2 346.81L728.45 346.99L728.7 347.1L728.95 347.17L729.2 347.23L729.45 347.27L729.7 347.3L729.95 347.33L730.2 347.34M730.7 347.33L730.95 347.32L731.2 347.29L731.45 347.25L731.7 347.19L731.95 347.13L732.2 347.04L732.45 346.93L732.7 346.77L732.95 346.52L733.2 346.08L733.45 345.28L733.7 343.83L733.95 341.34L734.2 337.4L734.45 331.71L734.7 324.33L734.95 315.88L735.2 307.54L735.45 300.86L735.7 297.31L735.95 297.72L736.2 301.99L736.45 309.12L736.7 317.6L736.95 325.92L737.2 332.99L737.45 338.32L737.7 341.94L737.95 344.19L738.2 345.48L738.45 346.19L738.7 346.58L738.95 346.81L739.2 346.95L739.45 347.06L739.7 347.15L739.95 347.22L740.2 347.27L740.45 347.31L740.7 347.35M744.95 347.37L745.2 347.32L745.45 347.24L745.7 347.13L745.95 346.98L746.2 346.82L746.45 346.66L746.7 346.55L746.95 346.49L747.2 346.52L747.45 346.61L747.7 346.75L747.95 346.92L748.2 347.07L748.45 347.2L748.7 347.29L748.95 347.36" fill="none" stroke="#2fa92f" stroke-width="0.66" stroke-linejoin="round"/>
<line x1="141.5" y1="281.93" x2="141.5" y2="300.06" stroke="#2fa92f" stroke-width="0.7"/>
<line x1="152.3" y1="280.78" x2="152.3" y2="299.23" stroke="#2fa92f" stroke-width="0.7"/>
<line x1="338.8" y1="240.29" x2="338.8" y2="270.08" stroke="#2fa92f" stroke-width="0.7"/>
<line x1="360.1" y1="326.64" x2="360.1" y2="332.25" stroke="#2fa92f" stroke-width="0.7"/>
<line x1="446.2" y1="266.19" x2="446.2" y2="288.73" stroke="#2fa92f" stroke-width="0.7"/>
<line x1="566.7" y1="282.12" x2="566.7" y2="300.2" stroke="#2fa92f" stroke-width="0.7"/>
<line x1="608.75" y1="327.41" x2="608.75" y2="332.8" stroke="#2fa92f" stroke-width="0.7"/>
<line x1="682.3" y1="318.01" x2="682.3" y2="326.03" stroke="#2fa92f" stroke-width="0.7"/>
<line x1="725.4" y1="315.51" x2="725.4" y2="324.24" stroke="#2fa92f" stroke-width="0.7"/>
<line x1="735.8" y1="297.28" x2="735.8" y2="311.11" stroke="#2fa92f" stroke-width="0.7"/>
<line x1="141.5" y1="349.2" x2="141.5" y2="351.3" stroke="#5cbd5c" stroke-width="0.8"/>
<line x1="152.3" y1="349.2" x2="152.3" y2="363.5" stroke="#5cbd5c" stroke-width="0.8"/>
<line x1="163.5" y1="349.2" x2="163.5" y2="351.3" stroke="#5cbd5c" stroke-width="0.8"/>
<line x1="174.4" y1="349.2" x2="174.4" y2="363.5" stroke="#40ad40" stroke-width="1"/>
<line x1="185.4" y1="349.2" x2="185.4" y2="351.3" stroke="#40ad40" stroke-width="1"/>
<line x1="338.8" y1="349.2" x2="338.8" y2="351.3" stroke="#5cbd5c" stroke-width="0.8"/>
<line x1="357.2" y1="349.2" x2="357.2" y2="363.5" stroke="#40ad40" stroke-width="1"/>
<line x1="360.1" y1="349.2" x2="360.1" y2="351.3" stroke="#5cbd5c" stroke-width="0.8"/>
<line x1="414.2" y1="349.2" x2="414.2" y2="351.3" stroke="#40ad40" stroke-width="1"/>
<line x1="446.2" y1="349.2" x2="446.2" y2="351.3" stroke="#5cbd5c" stroke-width="0.8"/>
<line x1="457" y1="349.2" x2="457" y2="363.5" stroke="#40ad40" stroke-width="1"/>
<line x1="566.7" y1="349.2" x2="566.7" y2="351.3" stroke="#5cbd5c" stroke-width="0.8"/>
<line x1="577.5" y1="349.2" x2="577.5" y2="363.5" stroke="#40ad40" stroke-width="1"/>
<line x1="608.75" y1="349.2" x2="608.75" y2="351.3" stroke="#5cbd5c" stroke-width="0.8"/>
<line x1="682.3" y1="349.2" x2="682.3" y2="351.3" stroke="#5cbd5c" stroke-width="0.8"/>
<line x1="703.75" y1="349.2" x2="703.75" y2="351.3" stroke="#40ad40" stroke-width="1"/>
<line x1="714.6" y1="349.2" x2="714.6" y2="363.5" stroke="#40ad40" stroke-width="1"/>
<line x1="725.4" y1="349.2" x2="725.4" y2="351.3" stroke="#5cbd5c" stroke-width="0.8"/>
<line x1="735.8" y1="349.2" x2="735.8" y2="363.5" stroke="#5cbd5c" stroke-width="0.8"/>
<rect x="134.47" y="351.48" width="14.85" height="9.85" fill="#fff" stroke="#5cbd5c" stroke-width="0.95"/>
<text class="l" x="142" y="358.95" text-anchor="middle">al 8</text>
<rect x="145.17" y="363.68" width="15.15" height="10.05" fill="#fff" stroke="#5cbd5c" stroke-width="0.95"/>
<text class="l" x="152.85" y="371.25" text-anchor="middle">al 9</text>
<rect x="154.47" y="351.48" width="19.35" height="9.85" fill="#fff" stroke="#5cbd5c" stroke-width="0.95"/>
<text class="l" x="164.25" y="358.95" text-anchor="middle">al 10</text>
<rect x="164.55" y="364.05" width="21" height="9.5" fill="#fff" stroke="#40ad40" stroke-width="1.5"/>
<text class="l" x="175.15" y="371.35" text-anchor="middle">al 11</text>
<rect x="175" y="351.85" width="20.95" height="9.3" fill="#fff" stroke="#40ad40" stroke-width="1.5"/>
<text class="l" x="185.57" y="359.05" text-anchor="middle">al 12</text>
<rect x="329.38" y="351.48" width="19.35" height="9.85" fill="#fff" stroke="#5cbd5c" stroke-width="0.95"/>
<text class="l" x="339.15" y="358.95" text-anchor="middle">al 12</text>
<rect x="346.65" y="364.05" width="22.2" height="9.5" fill="#fff" stroke="#40ad40" stroke-width="1.5"/>
<text class="l" x="357.85" y="371.35" text-anchor="middle">al OL</text>
<rect x="351.18" y="351.48" width="19.55" height="9.85" fill="#fff" stroke="#5cbd5c" stroke-width="0.95"/>
<text class="l" x="361.05" y="358.95" text-anchor="middle">al 14</text>
<rect x="406.55" y="351.85" width="16.1" height="9.3" fill="#fff" stroke="#40ad40" stroke-width="1.5"/>
<text class="l" x="414.7" y="359.05" text-anchor="middle">al 8</text>
<rect x="436.48" y="351.48" width="19.85" height="9.85" fill="#fff" stroke="#5cbd5c" stroke-width="0.95"/>
<text class="l" x="446.5" y="358.95" text-anchor="middle">al 11</text>
<rect x="446.85" y="364.05" width="20.8" height="9.5" fill="#fff" stroke="#40ad40" stroke-width="1.5"/>
<text class="l" x="457.35" y="371.35" text-anchor="middle">al 12</text>
<rect x="558.93" y="351.48" width="15.2" height="9.85" fill="#fff" stroke="#5cbd5c" stroke-width="0.95"/>
<text class="l" x="566.63" y="358.95" text-anchor="middle">al 9</text>
<rect x="567.35" y="364.05" width="19.9" height="9.5" fill="#fff" stroke="#40ad40" stroke-width="1.5"/>
<text class="l" x="577.4" y="371.35" text-anchor="middle">al 10</text>
<rect x="599.38" y="351.48" width="19.55" height="9.85" fill="#fff" stroke="#5cbd5c" stroke-width="0.95"/>
<text class="l" x="609.25" y="358.95" text-anchor="middle">al 13</text>
<rect x="674.78" y="351.48" width="15.35" height="9.85" fill="#fff" stroke="#5cbd5c" stroke-width="0.95"/>
<text class="l" x="682.55" y="358.95" text-anchor="middle">al 7</text>
<rect x="696.05" y="351.85" width="16" height="9.3" fill="#fff" stroke="#40ad40" stroke-width="1.5"/>
<text class="l" x="704.15" y="359.05" text-anchor="middle">al 9</text>
<rect x="704.85" y="364.05" width="20.1" height="9.5" fill="#fff" stroke="#40ad40" stroke-width="1.5"/>
<text class="l" x="715" y="371.35" text-anchor="middle">al 10</text>
<rect x="716.18" y="351.48" width="19.55" height="9.85" fill="#fff" stroke="#5cbd5c" stroke-width="0.95"/>
<text class="l" x="726.05" y="358.95" text-anchor="middle">al 11</text>
<rect x="726.88" y="363.68" width="19.3" height="10.05" fill="#fff" stroke="#5cbd5c" stroke-width="0.95"/>
<text class="l" x="736.63" y="371.25" text-anchor="middle">al 12</text>
</g>
<g>
<rect x="69.4" y="391.4" width="181.2" height="8.1" fill="#cbcbcb" stroke="#3e3e3e" stroke-width="1"/>
<text class="b" x="70.7" y="398.15">D5S818</text>
<rect x="251.4" y="391.4" width="123.7" height="8.1" fill="#cbcbcb" stroke="#3e3e3e" stroke-width="1"/>
<text class="b" x="252.7" y="398.15">D13S317</text>
<rect x="375.9" y="391.4" width="129.45" height="8.1" fill="#cbcbcb" stroke="#3e3e3e" stroke-width="1"/>
<text class="b" x="377.2" y="398.15">D7S820</text>
<rect x="506.15" y="391.4" width="141.95" height="8.1" fill="#cbcbcb" stroke="#3e3e3e" stroke-width="1"/>
<text class="b" x="507.45" y="398.15">D16S539</text>
<rect x="651.4" y="391.4" width="134.8" height="8.1" fill="#cbcbcb" stroke="#3e3e3e" stroke-width="1"/>
<text class="b" x="652.7" y="398.15">CSF1PO</text>
<line x1="19.4" y1="541.8" x2="23.2" y2="541.8" stroke="#222" stroke-width="0.9"/>
<text class="a" x="18.5" y="544" text-anchor="end">0</text>
<line x1="19.4" y1="532.21" x2="23.2" y2="532.21" stroke="#222" stroke-width="0.9"/>
<line x1="19.4" y1="522.63" x2="23.2" y2="522.63" stroke="#222" stroke-width="0.9"/>
<text class="a" x="18.5" y="524.83" text-anchor="end">1000</text>
<line x1="19.4" y1="513.04" x2="23.2" y2="513.04" stroke="#222" stroke-width="0.9"/>
<line x1="19.4" y1="503.46" x2="23.2" y2="503.46" stroke="#222" stroke-width="0.9"/>
<text class="a" x="18.5" y="505.66" text-anchor="end">2000</text>
<line x1="19.4" y1="493.87" x2="23.2" y2="493.87" stroke="#222" stroke-width="0.9"/>
<line x1="19.4" y1="484.29" x2="23.2" y2="484.29" stroke="#222" stroke-width="0.9"/>
<text class="a" x="18.5" y="486.49" text-anchor="end">3000</text>
<line x1="19.4" y1="474.7" x2="23.2" y2="474.7" stroke="#222" stroke-width="0.9"/>
<line x1="19.4" y1="465.12" x2="23.2" y2="465.12" stroke="#222" stroke-width="0.9"/>
<text class="a" x="18.5" y="467.32" text-anchor="end">4000</text>
<line x1="19.4" y1="455.53" x2="23.2" y2="455.53" stroke="#222" stroke-width="0.9"/>
<line x1="19.4" y1="445.95" x2="23.2" y2="445.95" stroke="#222" stroke-width="0.9"/>
<text class="a" x="18.5" y="448.15" text-anchor="end">5000</text>
<line x1="19.4" y1="436.36" x2="23.2" y2="436.36" stroke="#222" stroke-width="0.9"/>
<line x1="19.4" y1="426.78" x2="23.2" y2="426.78" stroke="#222" stroke-width="0.9"/>
<text class="a" x="18.5" y="428.98" text-anchor="end">6000</text>
<line x1="19.4" y1="417.65" x2="23.2" y2="417.65" stroke="#222" stroke-width="1"/>
<line x1="21.6" y1="417.65" x2="835.2" y2="417.65" stroke="#666" stroke-width="1.3"/>
<line x1="834.7" y1="417.65" x2="834.7" y2="543.9" stroke="#858585" stroke-width="1.3"/>
<line x1="99" y1="415.85" x2="99" y2="419.35" stroke="#666" stroke-width="1"/>
<text class="a" x="99.1" y="412.9" text-anchor="middle">100</text>
<line x1="231.5" y1="415.85" x2="231.5" y2="419.35" stroke="#111" stroke-width="1"/>
<line x1="363.5" y1="415.85" x2="363.5" y2="419.35" stroke="#111" stroke-width="1"/>
<text class="a" x="363.6" y="412.9" text-anchor="middle">200</text>
<line x1="495.5" y1="415.85" x2="495.5" y2="419.35" stroke="#111" stroke-width="1"/>
<line x1="627.5" y1="415.85" x2="627.5" y2="419.35" stroke="#111" stroke-width="1"/>
<text class="a" x="627.6" y="412.9" text-anchor="middle">300</text>
<line x1="759.5" y1="415.85" x2="759.5" y2="419.35" stroke="#111" stroke-width="1"/>
<line x1="22.1" y1="541.8" x2="834.4" y2="541.8" stroke="#a8dfa8" stroke-width="1.8"/>
<line x1="21.1" y1="543.4" x2="835.2" y2="543.4" stroke="#555" stroke-width="1.0"/>
<line x1="21.55" y1="417.25" x2="21.55" y2="543.9" stroke="#3a3a3a" stroke-width="1"/>
<path d="M169.4 542.1L169.4 541.8L169.65 541.8L169.9 541.8L170.15 541.8L170.4 541.8L170.65 541.46L170.9 541.11L171.15 540.77L171.4 540.42L171.65 540.08L171.9 539.74L172.15 538.22L172.4 534.91L172.65 529.51L172.9 521.51L173.15 510.78L173.4 497.9L173.65 484.3L173.9 472.06L174.15 463.5L174.4 460.42L174.65 463.5L174.9 472.06L175.15 484.3L175.4 497.9L175.65 510.78L175.9 521.51L176.15 529.51L176.4 534.91L176.65 538.22L176.9 539.74L177.15 540.08L177.4 540.42L177.65 540.77L177.9 541.11L178.15 541.46L178.4 541.8L178.65 541.8L178.9 541.8L179.15 541.8L179.4 541.8L179.4 542.1Z" fill="#5ab848" stroke="#5ab848" stroke-width="0.4"/>
<line x1="170.8" y1="541.8" x2="178" y2="541.8" stroke="#222" stroke-width="1"/>
<path d="M180.3 542.1L180.3 541.8L180.55 541.8L180.8 541.8L181.05 541.8L181.3 541.8L181.55 541.46L181.8 541.11L182.05 540.77L182.3 540.42L182.55 540.08L182.8 539.74L183.05 538.56L183.3 535.48L183.55 530.42L183.8 522.85L184.05 512.62L184.3 500.26L184.55 487.13L184.8 475.28L185.05 466.96L185.3 463.97L185.55 466.96L185.8 475.28L186.05 487.13L186.3 500.26L186.55 512.62L186.8 522.85L187.05 530.42L187.3 535.48L187.55 538.56L187.8 539.74L188.05 540.08L188.3 540.42L188.55 540.77L188.8 541.11L189.05 541.46L189.3 541.8L189.55 541.8L189.8 541.8L190.05 541.8L190.3 541.8L190.3 542.1Z" fill="#5ab848" stroke="#5ab848" stroke-width="0.4"/>
<line x1="181.7" y1="541.8" x2="188.9" y2="541.8" stroke="#222" stroke-width="1"/>
<path d="M351.7 542.1L351.7 541.8L351.95 541.8L352.2 541.8L352.45 541.8L352.7 541.8L352.95 541.46L353.2 541.11L353.45 540.77L353.7 540.42L353.95 540.08L354.2 539.74L354.45 537.72L354.7 533.95L354.95 527.79L355.2 518.66L355.45 506.43L355.7 491.75L355.95 476.24L356.2 462.29L356.45 452.53L356.7 449.02L356.95 452.53L357.2 462.29L357.45 476.24L357.7 491.75L357.95 506.43L358.2 518.66L358.45 527.79L358.7 533.95L358.95 537.72L359.2 539.74L359.45 540.08L359.7 540.42L359.95 540.77L360.2 541.11L360.45 541.46L360.7 541.8L360.95 541.8L361.2 541.8L361.45 541.8L361.7 541.8L361.7 542.1Z" fill="#5ab848" stroke="#5ab848" stroke-width="0.4"/>
<line x1="353.1" y1="541.8" x2="360.3" y2="541.8" stroke="#222" stroke-width="1"/>
<path d="M408.6 542.1L408.6 541.8L408.85 541.8L409.1 541.8L409.35 541.8L409.6 541.8L409.85 541.46L410.1 541.11L410.35 540.77L410.6 540.42L410.85 540.08L411.1 539.74L411.35 539.39L411.6 536.97L411.85 532.77L412.1 526.25L412.35 517.18L412.6 505.94L412.85 493.76L413.1 482.6L413.35 474.69L413.6 471.83L413.85 474.69L414.1 482.6L414.35 493.76L414.6 505.94L414.85 517.18L415.1 526.25L415.35 532.77L415.6 536.97L415.85 539.39L416.1 539.74L416.35 540.08L416.6 540.42L416.85 540.77L417.1 541.11L417.35 541.46L417.6 541.8L417.85 541.8L418.1 541.8L418.35 541.8L418.6 541.8L418.6 542.1Z" fill="#5ab848" stroke="#5ab848" stroke-width="0.4"/>
<line x1="410" y1="541.8" x2="417.2" y2="541.8" stroke="#222" stroke-width="1"/>
<path d="M451.7 542.1L451.7 541.8L451.95 541.8L452.2 541.8L452.45 541.8L452.7 541.8L452.95 541.46L453.2 541.11L453.45 540.77L453.7 540.42L453.95 540.08L454.2 539.74L454.45 539.39L454.7 537.82L454.95 534.14L455.2 528.31L455.45 520.01L455.7 509.54L455.95 498.03L456.2 487.37L456.45 479.77L456.7 477.01L456.95 479.77L457.2 487.37L457.45 498.03L457.7 509.54L457.95 520.01L458.2 528.31L458.45 534.14L458.7 537.82L458.95 539.39L459.2 539.74L459.45 540.08L459.7 540.42L459.95 540.77L460.2 541.11L460.45 541.46L460.7 541.8L460.95 541.8L461.2 541.8L461.45 541.8L461.7 541.8L461.7 542.1Z" fill="#5ab848" stroke="#5ab848" stroke-width="0.4"/>
<line x1="453.1" y1="541.8" x2="460.3" y2="541.8" stroke="#222" stroke-width="1"/>
<path d="M572.5 542.1L572.5 541.8L572.75 541.8L573 541.8L573.25 541.8L573.5 541.8L573.75 541.46L574 541.11L574.25 540.77L574.5 540.42L574.75 540.08L575 539.74L575.25 539.39L575.5 538.24L575.75 534.85L576 529.39L576.25 521.51L576.5 511.49L576.75 500.37L577 490.01L577.25 482.58L577.5 479.88L577.75 482.58L578 490.01L578.25 500.37L578.5 511.49L578.75 521.51L579 529.39L579.25 534.85L579.5 538.24L579.75 539.39L580 539.74L580.25 540.08L580.5 540.42L580.75 540.77L581 541.11L581.25 541.46L581.5 541.8L581.75 541.8L582 541.8L582.25 541.8L582.5 541.8L582.5 542.1Z" fill="#5ab848" stroke="#5ab848" stroke-width="0.4"/>
<line x1="573.9" y1="541.8" x2="581.1" y2="541.8" stroke="#222" stroke-width="1"/>
<path d="M698.7 542.1L698.7 541.8L698.95 541.8L699.2 541.8L699.45 541.8L699.7 541.8L699.95 541.46L700.2 541.11L700.45 540.77L700.7 540.42L700.95 540.08L701.2 539.74L701.45 538.98L701.7 536.2L701.95 531.55L702.2 524.46L702.45 514.77L702.7 502.92L702.95 490.22L703.2 478.68L703.45 470.55L703.7 467.61L703.95 470.55L704.2 478.68L704.45 490.22L704.7 502.92L704.95 514.77L705.2 524.46L705.45 531.55L705.7 536.2L705.95 538.98L706.2 539.74L706.45 540.08L706.7 540.42L706.95 540.77L707.2 541.11L707.45 541.46L707.7 541.8L707.95 541.8L708.2 541.8L708.45 541.8L708.7 541.8L708.7 542.1Z" fill="#5ab848" stroke="#5ab848" stroke-width="0.4"/>
<line x1="700.1" y1="541.8" x2="707.3" y2="541.8" stroke="#222" stroke-width="1"/>
<path d="M709.5 542.1L709.5 541.8L709.75 541.8L710 541.8L710.25 541.8L710.5 541.8L710.75 541.46L711 541.11L711.25 540.77L711.5 540.42L711.75 540.08L712 539.74L712.25 539.39L712.5 538.32L712.75 534.99L713 529.6L713.25 521.81L713.5 511.87L713.75 500.83L714 490.53L714.25 483.15L714.5 480.46L714.75 483.15L715 490.53L715.25 500.83L715.5 511.87L715.75 521.81L716 529.6L716.25 534.99L716.5 538.32L716.75 539.39L717 539.74L717.25 540.08L717.5 540.42L717.75 540.77L718 541.11L718.25 541.46L718.5 541.8L718.75 541.8L719 541.8L719.25 541.8L719.5 541.8L719.5 542.1Z" fill="#5ab848" stroke="#5ab848" stroke-width="0.4"/>
<line x1="710.9" y1="541.8" x2="718.1" y2="541.8" stroke="#222" stroke-width="1"/>
<path d="M40.2 541.73L40.45 541.68L40.7 541.59L40.95 541.46L41.2 541.28L41.45 541.05L41.7 540.79L41.95 540.54L42.2 540.35L42.45 540.27L42.7 540.31L42.95 540.46L43.2 540.69L43.45 540.95L43.7 541.19L43.95 541.4L44.2 541.55L44.45 541.65L44.7 541.71M107.2 541.7L107.45 541.63L107.7 541.54L107.95 541.42L108.2 541.29L108.45 541.17L108.7 541.08L108.95 541.03L109.2 541.05L109.45 541.13L109.7 541.24L109.95 541.37L110.2 541.5L110.45 541.6L110.7 541.67L110.95 541.72M151.95 541.69L152.2 541.62L152.45 541.52L152.7 541.4L152.95 541.27L153.2 541.15L153.45 541.06L153.7 541.03L153.95 541.06L154.2 541.15L154.45 541.27L154.7 541.4L154.95 541.52L155.2 541.62L155.45 541.69M160.2 541.7L160.45 541.66L160.7 541.58L160.95 541.43L161.2 541.17L161.45 540.76L161.7 540.15L161.95 539.35L162.2 538.4L162.45 537.43L162.7 536.62L162.95 536.13L163.2 536.09L163.45 536.49L163.7 537.25L163.95 538.2L164.2 539.17L164.45 540.01L164.7 540.65L164.95 541.1L165.2 541.39L165.45 541.55L165.7 541.64L165.95 541.69M170.45 541.73L170.7 541.39L170.95 541.04L171.2 540.7L171.45 540.36L171.7 540.01L171.95 539.67L172.2 537.7L172.45 534.02L172.7 528.13L172.95 519.57L173.2 508.35L173.45 495.18L173.7 481.66L173.95 469.99L174.2 462.41L174.45 460.55L174.7 464.82L174.95 474.28L175.2 486.98L175.45 500.6L175.7 513.13L175.95 523.33L176.2 530.79L176.45 535.72L176.7 538.69L176.95 539.81L177.2 540.15L177.45 540.49L177.7 540.84L177.95 541.18L178.2 541.52L178.45 541.8M181.2 541.8L181.45 541.59L181.7 541.25L181.95 540.91L182.2 540.56L182.45 540.22L182.7 539.88L182.95 539.37L183.2 536.92L183.45 532.72L183.7 526.2L183.95 517.01L184.2 505.39L184.45 492.35L184.7 479.71L184.95 469.73L185.2 464.46L185.45 465.06L185.7 471.41L185.95 482.1L186.2 495L186.45 507.87L186.7 519.06L186.95 527.71L187.2 533.73L187.45 537.53L187.7 539.6L187.95 539.94L188.2 540.29L188.45 540.63L188.7 540.97L188.95 541.32L189.2 541.66L189.45 541.8M194.2 541.7L194.45 541.63L194.7 541.54L194.95 541.42L195.2 541.29L195.45 541.17L195.7 541.08L195.95 541.03L196.2 541.05L196.45 541.13L196.7 541.24L196.95 541.37L197.2 541.5L197.45 541.6L197.7 541.67L197.95 541.72M267.2 541.7L267.45 541.63L267.7 541.54L267.95 541.42L268.2 541.29L268.45 541.17L268.7 541.08L268.95 541.03L269.2 541.05L269.45 541.13L269.7 541.24L269.95 541.37L270.2 541.5L270.45 541.6L270.7 541.67L270.95 541.72M325.95 541.7L326.2 541.63L326.45 541.52L326.7 541.33L326.95 541.05L327.2 540.66L327.45 540.2L327.7 539.71L327.95 539.28L328.2 539L328.45 538.93L328.7 539.09L328.95 539.44L329.2 539.9L329.45 540.39L329.7 540.83L329.95 541.17L330.2 541.41L330.45 541.57L330.7 541.66L330.95 541.71M333.95 541.7L334.2 541.67L334.45 541.64L334.7 541.59L334.95 541.53L335.2 541.46L335.45 541.35L335.7 541.18L335.95 540.88L336.2 540.32L336.45 539.31L336.7 537.61L336.95 534.96L337.2 531.22L337.45 526.48L337.7 521.18L337.95 516.15L338.2 512.34L338.45 510.6L338.7 511.36L338.95 514.42L339.2 519.09L339.45 524.39L339.7 529.42L339.95 533.6L340.2 536.68L340.45 538.73L340.7 539.98L340.95 540.69L341.2 541.07L341.45 541.29L341.7 541.41L341.95 541.49L342.2 541.55L342.45 541.59L342.7 541.63L342.95 541.65L343.2 541.66L343.45 541.67L343.7 541.66L343.95 541.63L344.2 541.55L344.45 541.41L344.7 541.16L344.95 540.75L345.2 540.15L345.45 539.34L345.7 538.4L345.95 537.43L346.2 536.62L346.45 536.13L346.7 536.09L346.95 536.49L347.2 537.25L347.45 538.2L347.7 539.17L347.95 540.01L348.2 540.65L348.45 541.1L348.7 541.39L348.95 541.55L349.2 541.64L349.45 541.69M352.7 541.79L352.95 541.45L353.2 541.11L353.45 540.77L353.7 540.42L353.95 540.08L354.2 539.74L354.45 537.72L354.7 533.95L354.95 527.79L355.2 518.66L355.45 506.43L355.7 491.75L355.95 476.24L356.2 462.29L356.45 452.53L356.7 449.02L356.95 452.53L357.2 462.29L357.45 476.24L357.7 491.75L357.95 506.43L358.2 518.66L358.45 527.79L358.7 533.95L358.95 537.72L359.2 539.74L359.45 540.08L359.7 540.42L359.95 540.77L360.2 541.11L360.45 541.46L360.7 541.8M365.2 541.71L365.45 541.65L365.7 541.55L365.95 541.4L366.2 541.19L366.45 540.95L366.7 540.69L366.95 540.46L367.2 540.31L367.45 540.27L367.7 540.35L367.95 540.54L368.2 540.79L368.45 541.05L368.7 541.28L368.95 541.46L369.2 541.59L369.45 541.68L369.7 541.73M400.95 541.7L401.2 541.63L401.45 541.52L401.7 541.33L401.95 541.05L402.2 540.66L402.45 540.2L402.7 539.71L402.95 539.28L403.2 539L403.45 538.93L403.7 539.09L403.95 539.44L404.2 539.9L404.45 540.39L404.7 540.83L404.95 541.17L405.2 541.41L405.45 541.57L405.7 541.66L405.95 541.71M409.45 541.8L409.7 541.66L409.95 541.32L410.2 540.97L410.45 540.63L410.7 540.29L410.95 539.94L411.2 539.6L411.45 538.62L411.7 535.53L411.95 530.46L412.2 522.92L412.45 512.89L412.7 501.08L412.95 489.04L413.2 478.93L413.45 472.87L413.7 472.3L413.95 477.33L414.2 486.79L414.45 498.63L414.7 510.63L414.95 521.1L415.2 529.16L415.45 534.7L415.7 538.13L415.95 539.53L416.2 539.87L416.45 540.22L416.7 540.56L416.95 540.91L417.2 541.25L417.45 541.59L417.7 541.8M443.45 541.71L443.7 541.67L443.95 541.59L444.2 541.46L444.45 541.22L444.7 540.85L444.95 540.31L445.2 539.6L445.45 538.8L445.7 538.01L445.95 537.38L446.2 537.04L446.45 537.08L446.7 537.48L446.95 538.16L447.2 538.97L447.45 539.76L447.7 540.43L447.95 540.93L448.2 541.28L448.45 541.49L448.7 541.61L448.95 541.68M452.7 541.8L452.95 541.46L453.2 541.11L453.45 540.77L453.7 540.42L453.95 540.08L454.2 539.74L454.45 539.39L454.7 537.82L454.95 534.14L455.2 528.31L455.45 520.01L455.7 509.54L455.95 498.03L456.2 487.37L456.45 479.77L456.7 477.01L456.95 479.77L457.2 487.37L457.45 498.03L457.7 509.54L457.95 520.01L458.2 528.31L458.45 534.14L458.7 537.82L458.95 539.39L459.2 539.74L459.45 540.08L459.7 540.42L459.95 540.77L460.2 541.11L460.45 541.46L460.7 541.8M466.2 541.7L466.45 541.63L466.7 541.54L466.95 541.42L467.2 541.29L467.45 541.17L467.7 541.08L467.95 541.03L468.2 541.05L468.45 541.13L468.7 541.24L468.95 541.37L469.2 541.5L469.45 541.6L469.7 541.67L469.95 541.72M553.7 541.71L553.95 541.65L554.2 541.54L554.45 541.38L554.7 541.15L554.95 540.86L555.2 540.54L555.45 540.23L555.7 539.99L555.95 539.89L556.2 539.93L556.45 540.12L556.7 540.41L556.95 540.73L557.2 541.04L557.45 541.3L557.7 541.49L557.95 541.61L558.2 541.69M561.95 541.71L562.2 541.68L562.45 541.64L562.7 541.6L562.95 541.54L563.2 541.47L563.45 541.37L563.7 541.22L563.95 540.96L564.2 540.49L564.45 539.63L564.7 538.14L564.95 535.73L565.2 532.19L565.45 527.49L565.7 521.96L565.95 516.32L566.2 511.58L566.45 508.74L566.7 508.47L566.95 510.83L567.2 515.27L567.45 520.81L567.7 526.43L567.95 531.34L568.2 535.12L568.45 537.74L568.7 539.39L568.95 540.36L569.2 540.89L569.45 541.18L569.7 541.35L569.95 541.45L570.2 541.53L570.45 541.59L570.7 541.64L570.95 541.67L571.2 541.7M573.45 541.8L573.7 541.52L573.95 541.18L574.2 540.84L574.45 540.49L574.7 540.15L574.95 539.81L575.2 539.46L575.45 538.72L575.7 535.68L575.95 530.67L576.2 523.28L576.45 513.62L576.7 502.6L576.95 491.91L577.2 483.74L577.45 479.99L577.7 481.62L577.95 488.22L578.2 498.16L578.45 509.3L578.7 519.66L578.95 528.01L579.2 533.94L579.45 537.7L579.7 539.32L579.95 539.67L580.2 540.01L580.45 540.36L580.7 540.7L580.95 541.04L581.2 541.39L581.45 541.73M586.2 541.7L586.45 541.63L586.7 541.54L586.95 541.42L587.2 541.29L587.45 541.17L587.7 541.08L587.95 541.03L588.2 541.05L588.45 541.13L588.7 541.24L588.95 541.37L589.2 541.5L589.45 541.6L589.7 541.67L589.95 541.72M690.45 541.69L690.7 541.62L690.95 541.49L691.2 541.29L691.45 540.96L691.7 540.5L691.95 539.92L692.2 539.27L692.45 538.65L692.7 538.18L692.95 537.97L693.2 538.06L693.45 538.44L693.7 539.01L693.95 539.66L694.2 540.28L694.45 540.79L694.7 541.17L694.95 541.42L695.2 541.58L695.45 541.66L695.7 541.71M699.7 541.8L699.95 541.46L700.2 541.11L700.45 540.77L700.7 540.42L700.95 540.08L701.2 539.74L701.45 538.98L701.7 536.2L701.95 531.55L702.2 524.46L702.45 514.77L702.7 502.92L702.95 490.22L703.2 478.68L703.45 470.55L703.7 467.61L703.95 470.55L704.2 478.68L704.45 490.22L704.7 502.92L704.95 514.77L705.2 524.46L705.45 531.55L705.7 536.2L705.95 538.98L706.2 539.74L706.45 540.08L706.7 540.42L706.95 540.77L707.2 541.11L707.45 541.46L707.7 541.8M710.45 541.8L710.7 541.52L710.95 541.18L711.2 540.84L711.45 540.49L711.7 540.15L711.95 539.81L712.2 539.46L712.45 538.79L712.7 535.8L712.95 530.86L713.2 523.56L713.45 513.99L713.7 503.05L713.95 492.43L714.2 484.29L714.45 480.57L714.7 482.19L714.95 488.75L715.2 498.64L715.45 509.7L715.7 519.97L715.95 528.23L716.2 534.09L716.45 537.79L716.7 539.32L716.95 539.67L717.2 540.01L717.45 540.36L717.7 540.7L717.95 541.04L718.2 541.39L718.45 541.73M723.2 541.7L723.45 541.63L723.7 541.54L723.95 541.42L724.2 541.29L724.45 541.17L724.7 541.08L724.95 541.03L725.2 541.05L725.45 541.13L725.7 541.24L725.95 541.37L726.2 541.5L726.45 541.6L726.7 541.67L726.95 541.72" fill="none" stroke="#2fa92f" stroke-width="0.66" stroke-linejoin="round"/>
<line x1="338.5" y1="510.85" x2="338.5" y2="519.3" stroke="#2fa92f" stroke-width="0.7"/>
<line x1="566.6" y1="508.55" x2="566.6" y2="517.65" stroke="#2fa92f" stroke-width="0.7"/>
<line x1="174.4" y1="459.62" x2="174.4" y2="466.42" stroke="#2fa92f" stroke-width="0.6"/>
<line x1="185.3" y1="463.17" x2="185.3" y2="469.97" stroke="#2fa92f" stroke-width="0.6"/>
<line x1="356.7" y1="448.22" x2="356.7" y2="455.02" stroke="#2fa92f" stroke-width="0.6"/>
<line x1="413.6" y1="471.03" x2="413.6" y2="477.83" stroke="#2fa92f" stroke-width="0.6"/>
<line x1="456.7" y1="476.21" x2="456.7" y2="483.01" stroke="#2fa92f" stroke-width="0.6"/>
<line x1="577.5" y1="479.08" x2="577.5" y2="485.88" stroke="#2fa92f" stroke-width="0.6"/>
<line x1="703.7" y1="466.81" x2="703.7" y2="473.61" stroke="#2fa92f" stroke-width="0.6"/>
<line x1="714.5" y1="479.66" x2="714.5" y2="486.46" stroke="#2fa92f" stroke-width="0.6"/>
<line x1="174.4" y1="544" x2="174.4" y2="545.2" stroke="#40ad40" stroke-width="1"/>
<line x1="185.3" y1="544" x2="185.3" y2="557.5" stroke="#40ad40" stroke-width="1"/>
<line x1="338.5" y1="544" x2="338.5" y2="545.2" stroke="#5cbd5c" stroke-width="0.8"/>
<line x1="356.7" y1="544" x2="356.7" y2="557.5" stroke="#40ad40" stroke-width="1"/>
<line x1="413.6" y1="544" x2="413.6" y2="545.2" stroke="#40ad40" stroke-width="1"/>
<line x1="456.7" y1="544" x2="456.7" y2="545.2" stroke="#40ad40" stroke-width="1"/>
<line x1="566.6" y1="544" x2="566.6" y2="545.2" stroke="#5cbd5c" stroke-width="0.8"/>
<line x1="577.5" y1="544" x2="577.5" y2="557.5" stroke="#40ad40" stroke-width="1"/>
<line x1="703.7" y1="544" x2="703.7" y2="545.2" stroke="#40ad40" stroke-width="1"/>
<line x1="714.5" y1="544" x2="714.5" y2="557.5" stroke="#40ad40" stroke-width="1"/>
<rect x="164.45" y="545.75" width="21" height="10.1" fill="#fff" stroke="#40ad40" stroke-width="1.5"/>
<text class="l" x="175.05" y="553.35" text-anchor="middle">al 11</text>
<rect x="175.45" y="558.05" width="21" height="10.1" fill="#fff" stroke="#40ad40" stroke-width="1.5"/>
<text class="l" x="186.05" y="565.65" text-anchor="middle">al 12</text>
<rect x="329.68" y="545.38" width="19.45" height="10.65" fill="#fff" stroke="#5cbd5c" stroke-width="0.95"/>
<text class="l" x="339.5" y="553.25" text-anchor="middle">al 12</text>
<rect x="345.85" y="558.05" width="22.6" height="10.1" fill="#fff" stroke="#40ad40" stroke-width="1.5"/>
<text class="l" x="357.25" y="565.65" text-anchor="middle">al OL</text>
<rect x="405.65" y="545.75" width="16.7" height="10.1" fill="#fff" stroke="#40ad40" stroke-width="1.5"/>
<text class="l" x="414.1" y="553.35" text-anchor="middle">al 8</text>
<rect x="446.95" y="545.75" width="20.5" height="10.1" fill="#fff" stroke="#40ad40" stroke-width="1.5"/>
<text class="l" x="457.3" y="553.35" text-anchor="middle">al 12</text>
<rect x="559.68" y="545.38" width="14.65" height="10.65" fill="#fff" stroke="#5cbd5c" stroke-width="0.95"/>
<text class="l" x="567.1" y="553.25" text-anchor="middle">al 9</text>
<rect x="568.05" y="558.05" width="19.9" height="10.1" fill="#fff" stroke="#40ad40" stroke-width="1.5"/>
<text class="l" x="578.1" y="565.65" text-anchor="middle">al 10</text>
<rect x="696.35" y="545.75" width="16.2" height="10.1" fill="#fff" stroke="#40ad40" stroke-width="1.5"/>
<text class="l" x="704.55" y="553.35" text-anchor="middle">al 9</text>
<rect x="705.05" y="558.05" width="20.1" height="10.1" fill="#fff" stroke="#40ad40" stroke-width="1.5"/>
<text class="l" x="715.2" y="565.65" text-anchor="middle">al 10</text>
</g>
<text class="s" transform="translate(860.7 576.6) rotate(-90)">7814TA</text>
</svg></body></html>
